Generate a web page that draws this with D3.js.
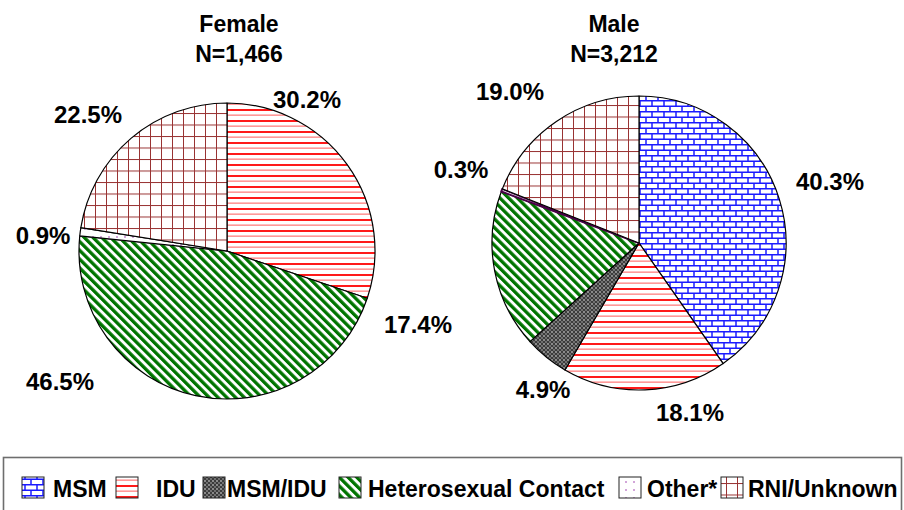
<!DOCTYPE html>
<html>
<head>
<meta charset="utf-8">
<script src="https://cdn.jsdelivr.net/npm/d3@7"></script>
<style>
  html, body { margin: 0; padding: 0; background: #fff; }
  svg { display: block; font-family: "Liberation Sans", Arial, sans-serif; font-weight: bold; }
</style>
</head>
<body>
<svg id="chart" width="904" height="510"></svg>
<script>
// ---- data ----
const categories = ["MSM", "IDU", "MSM/IDU", "Heterosexual Contact", "Other*", "RNI/Unknown"];
const femaleValues = [0, 30.2, 0, 46.5, 0.9, 22.5];
const maleValues = [40.3, 18.1, 4.9, 17.4, 0.3, 19.0];
const pieTitles = ["Female", "Male"];
const pieCounts = ["N=1,466", "N=3,212"];

// ---- layout ----
const pies = [
  { values: femaleValues, cx: 227, cy: 251, r: 148, titleX: 239,
    labelOffsets: [null, [80, -143], null, [-167, 139], [-184, -7], [-139, -128]] },
  { values: maleValues, cx: 639, cy: 243, r: 147, titleX: 614,
    labelOffsets: [[191, -53], [51, 178], [-96, 155], [-221, 90], [-178, -65], [-129, -143]] }
];
const legendSwatchX = [22, 116, 203, 339, 619, 721];
const legendTextX = [53, 156, 227, 368, 647, 748];
const legendLabels = ["MSM", "IDU", "MSM/IDU", "Heterosexual Contact", "Other*", "RNI/Unknown"];

const svg = d3.select("#chart");
const defs = svg.append("defs");

// MSM: blue bricks
(function () {
  const p = defs.append("pattern").attr("id", "pat0").attr("patternUnits", "userSpaceOnUse")
    .attr("width", 12).attr("height", 11);
  p.append("rect").attr("width", 12).attr("height", 11).attr("fill", "#fff");
  const c = "#1a1aff";
  p.append("line").attr("x1", 0).attr("x2", 12).attr("y1", 0.75).attr("y2", 0.75).attr("stroke", c).attr("stroke-width", 1.5);
  p.append("line").attr("x1", 0).attr("x2", 12).attr("y1", 6.25).attr("y2", 6.25).attr("stroke", c).attr("stroke-width", 1.5);
  p.append("line").attr("x1", 1).attr("x2", 1).attr("y1", 0).attr("y2", 6.25).attr("stroke", c).attr("stroke-width", 1.5);
  p.append("line").attr("x1", 7).attr("x2", 7).attr("y1", 6.25).attr("y2", 11).attr("stroke", c).attr("stroke-width", 1.5);
})();
// IDU: red horizontal lines
(function () {
  const p = defs.append("pattern").attr("id", "pat1").attr("patternUnits", "userSpaceOnUse")
    .attr("width", 8).attr("height", 11);
  p.append("rect").attr("width", 8).attr("height", 11).attr("fill", "#fff");
  p.append("rect").attr("x", 0).attr("y", 1).attr("width", 8).attr("height", 2).attr("fill", "#ff1a1a");
  p.append("rect").attr("x", 0).attr("y", 6.5).attr("width", 8).attr("height", 1.3).attr("fill", "#ff8080");
})();
// MSM/IDU: dark textured gray
(function () {
  const p = defs.append("pattern").attr("id", "pat2").attr("patternUnits", "userSpaceOnUse")
    .attr("width", 4).attr("height", 4);
  p.append("rect").attr("width", 4).attr("height", 4).attr("fill", "#3c3c3c");
  p.append("circle").attr("cx", 1).attr("cy", 1).attr("r", 0.9).attr("fill", "#b0b0b0");
  p.append("circle").attr("cx", 3).attr("cy", 3).attr("r", 0.9).attr("fill", "#8a8a8a");
})();
// Heterosexual: green diagonal stripes
(function () {
  const p = defs.append("pattern").attr("id", "pat3").attr("patternUnits", "userSpaceOnUse")
    .attr("width", 6.2).attr("height", 10).attr("patternTransform", "rotate(-45)");
  p.append("rect").attr("width", 6.2).attr("height", 10).attr("fill", "#fff");
  p.append("rect").attr("x", 0).attr("width", 3.3).attr("height", 10).attr("fill", "#007400");
})();
// Other: sparse purple dots
(function () {
  const p = defs.append("pattern").attr("id", "pat4").attr("patternUnits", "userSpaceOnUse")
    .attr("width", 8).attr("height", 8);
  p.append("rect").attr("width", 8).attr("height", 8).attr("fill", "#fff");
  p.append("circle").attr("cx", 2).attr("cy", 2).attr("r", 0.8).attr("fill", "#9933aa");
})();
// RNI: dark red grid
(function () {
  const p = defs.append("pattern").attr("id", "pat5").attr("patternUnits", "userSpaceOnUse")
    .attr("width", 11).attr("height", 11.5);
  p.append("rect").attr("width", 11).attr("height", 11.5).attr("fill", "#fff");
  p.append("line").attr("x1", 0.5).attr("x2", 0.5).attr("y1", 0).attr("y2", 11.5).attr("stroke", "#993333").attr("stroke-width", 1);
  p.append("line").attr("x1", 0).attr("x2", 11).attr("y1", 0.5).attr("y2", 0.5).attr("stroke", "#993333").attr("stroke-width", 1);
})();

const fillFor = i => `url(#pat${i})`;

const pieGen = d3.pie().sort(null).value(d => d.value);

pies.forEach((pc, pi) => {
  const data = categories.map((c, i) => ({ cat: c, idx: i, value: pc.values[i] }));
  const arcs = pieGen(data).filter(a => a.data.value > 0);
  const arcGen = d3.arc().innerRadius(0).outerRadius(pc.r);
  const g = svg.append("g").attr("transform", `translate(${pc.cx},${pc.cy})`);
  g.selectAll("path.slice").data(arcs).join("path")
    .attr("class", "slice")
    .attr("d", arcGen)
    .attr("fill", d => fillFor(d.data.idx))
    .attr("stroke", d => (pi === 1 && d.data.idx === 4) ? "#4a0048" : "#000")
    .attr("stroke-width", d => (pi === 1 && d.data.idx === 4) ? 2 : 1.2)
    .attr("stroke-linejoin", "round");
  g.selectAll("text.lbl").data(arcs).join("text")
    .attr("class", "lbl")
    .attr("x", d => pc.labelOffsets[d.data.idx][0])
    .attr("y", d => pc.labelOffsets[d.data.idx][1])
    .attr("text-anchor", "middle")
    .attr("font-size", 24)
    .attr("fill", "#000")
    .text(d => d.data.value.toFixed(1) + "%");

  svg.append("text").attr("x", pc.titleX).attr("y", 32).attr("text-anchor", "middle")
    .attr("font-size", 23).text(pieTitles[pi]);
  svg.append("text").attr("x", pc.titleX).attr("y", 62).attr("text-anchor", "middle")
    .attr("font-size", 23).text(pieCounts[pi]);
});

// legend
svg.append("rect").attr("x", 3.5).attr("y", 457.5).attr("width", 898).attr("height", 70)
  .attr("fill", "#fff").attr("stroke", "#6e6e6e").attr("stroke-width", 1.6);
const lg = svg.append("g");
categories.forEach((c, i) => {
  lg.append("rect").attr("x", legendSwatchX[i]).attr("y", 477).attr("width", 22).attr("height", 21)
    .attr("fill", fillFor(i)).attr("stroke", "#222").attr("stroke-width", 1);
  lg.append("text").attr("x", legendTextX[i]).attr("y", 497).attr("font-size", 23)
    .attr("fill", "#000").text(legendLabels[i]);
});
</script>
</body>
</html>
